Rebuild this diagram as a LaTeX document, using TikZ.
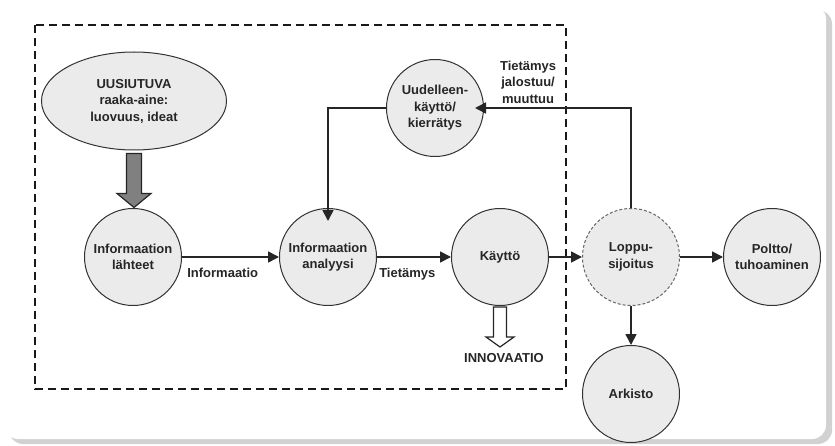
\documentclass[tikz,border=0pt]{standalone}
\usepackage{fontspec}
\setmainfont{Liberation Sans}
\usetikzlibrary{positioning,arrows.meta,calc,shapes.geometric}

\begin{document}
\begin{tikzpicture}[
    x=1pt, y=-1pt,
    font=\fontsize{13}{16.5}\selectfont\bfseries,
    phase/.style={circle, draw=black!80, line width=1pt, fill=black!8,
                  minimum size=97pt, inner sep=1pt, align=center,
                  text=black!85},
    dphase/.style={phase, draw=black!60, dash pattern=on 3pt off 2pt},
    flow/.style={-{Triangle[length=11pt, width=11pt]}, line width=1.7pt,
                 black!85},
    fat/.style={draw=black!85, line width=1.2pt, line join=miter},
    lbl/.style={align=center, text=black!85, inner sep=1pt},
  ]
  % --- grid geometry (pixel units of the card) ---
  \def\colA{133}  \def\colB{328}  \def\colC{500}
  \def\colD{631}  \def\colE{772}
  \def\rowA{257}

  % --- card with shadow ---
  \useasboundingbox (0,0) rectangle (835,446);
  \fill[black!18, rounded corners=14pt] (9,10) rectangle (832,444);
  \fill[white, rounded corners=14pt] (4,5) rectangle (826,439);

  % --- dashed frame round the innovation part ---
  \draw[line width=1.8pt, dash pattern=on 8pt off 5pt, black!90]
    (35,25) rectangle (566,389);

  % --- raw material ---
  \node[phase, ellipse, minimum width=185pt, minimum height=98pt] (raw)
    at (134,101) {UUSIUTUVA\\raaka-aine:\\luovuus, ideat};
  \draw[fat, fill=black!50, shift={(raw.south)}]
    (-7.5,3) -- (7.5,3) -- (7.5,43) -- (17,43) -- (0,57) -- (-17,43)
    -- (-7.5,43) -- cycle;

  % --- main row ---
  \node[phase]  (src)  at (\colA,\rowA) {Informaation\\lähteet};
  \node[phase]  (ana)  at (\colB,\rowA) {Informaation\\analyysi};
  \node[phase]  (use)  at (\colC,\rowA) {Käyttö};
  \node[dphase] (end)  at (\colD,\rowA) {Loppu-\\sijoitus};
  \node[phase]  (burn) at (\colE,\rowA) {Poltto/\\tuhoaminen};
  \node[phase]  (arch) at (\colD,394)   {Arkisto};
  \node[phase]  (reuse) at (435,108)    {Uudelleen-\\käyttö/\\kierrätys};

  % --- innovation output ---
  \draw[fat, fill=white, shift={(use.south)}]
    (-6.5,1) -- (6.5,1) -- (6.5,31) -- (14,31) -- (0,41) -- (-14,31)
    -- (-6.5,31) -- cycle;
  \node[lbl] (inno) at (504,358) {INNOVAATIO};

  % --- flows ---
  \draw[flow] (src) -- (ana)
    node[lbl, pos=0.42, below=9pt] {Informaatio};
  \draw[flow] (ana) -- (use)
    node[lbl, pos=0.41, below=9pt] {Tietämys};
  \draw[flow] (use) -- (end);
  \draw[flow] (end) -- (burn);
  \draw[flow] (end) -- (arch);

  % --- feedback loop ---
  \draw[flow, shorten >=-9pt] (end.north) |- (reuse.east)
    node[lbl, pos=0.85, above=3pt] {Tietämys\\jalostuu/\\muuttuu};
  \draw[flow, shorten >=-13pt] (reuse.west) -| (ana.north);
\end{tikzpicture}
\end{document}
